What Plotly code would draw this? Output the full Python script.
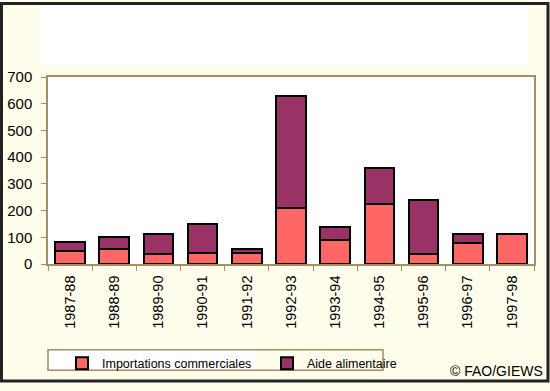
import plotly.graph_objects as go

categories = ["1987-88", "1988-89", "1989-90", "1990-91", "1991-92", "1992-93",
              "1993-94", "1994-95", "1995-96", "1996-97", "1997-98"]
importations_commerciales = [47, 57, 36, 43, 42, 209, 90, 225, 39, 79, 112]
aide_alimentaire = [34, 43, 77, 106, 13, 421, 50, 133, 201, 33, 0]
y_ticks = [0, 100, 200, 300, 400, 500, 600, 700]

W, H = 550, 391
L, R, T, B = 48, 16, 77, 122
PW, PH = W - L - R, H - T - B

def px(x):
    return (x - L) / PW

def py(y):
    return (H - B - y) / PH

FONT = "Liberation Sans, Arial, sans-serif"
TAN = "#A88C64"
CREAM = "#FFFDEB"

fig = go.Figure()
fig.add_trace(go.Bar(x=categories, y=importations_commerciales, name="Importations commerciales",
                     marker=dict(color="#FF6666", line=dict(color="black", width=2))))
fig.add_trace(go.Bar(x=categories, y=aide_alimentaire, name="Aide alimentaire",
                     marker=dict(color="#993366", line=dict(color="black", width=2))))

shapes = [
    # white top panel
    dict(type="rect", xref="paper", yref="paper", x0=px(40), x1=px(528), y0=py(65), y1=py(3),
         fillcolor="white", line=dict(width=0), layer="below"),
    # legend box
    dict(type="rect", xref="paper", yref="paper", x0=px(49), x1=px(256), y0=py(378), y1=py(357),
         fillcolor="white", line=dict(width=0), layer="below"),
    dict(type="rect", xref="paper", yref="paper", x0=px(48), x1=px(383), y0=py(378), y1=py(357),
         fillcolor="rgba(0,0,0,0)", line=dict(color=TAN, width=1.5), layer="below"),
    # outer border
    dict(type="rect", xref="paper", yref="paper", x0=px(1.5), x1=px(548), y0=py(389), y1=py(1.5),
         fillcolor="rgba(0,0,0,0)", line=dict(color="#222222", width=3)),
]

fig.update_layout(
    width=W, height=H,
    margin=dict(l=L, r=R, t=T, b=B, pad=0),
    barmode="stack", bargap=0.33,
    paper_bgcolor=CREAM, plot_bgcolor="white",
    font=dict(family=FONT, size=15, color="black"),
    showlegend=True,
    legend=dict(orientation="h", x=px(62), xanchor="left", y=py(356), yanchor="top",
                bgcolor="rgba(0,0,0,0)", borderwidth=0, font=dict(size=12.5),
                entrywidth=160, entrywidthmode="pixels", traceorder="normal"),
    shapes=shapes,
    annotations=[dict(text="© FAO/GIEWS", xref="paper", yref="paper", x=px(545), y=py(379),
                      xanchor="right", yanchor="middle", showarrow=False,
                      font=dict(size=14, family=FONT, color="black"))],
)
fig.update_xaxes(showline=True, linecolor=TAN, linewidth=1.5, mirror=True, automargin=False,
                 ticks="outside", ticklen=5, tickcolor=TAN, tickson="boundaries",
                 tickangle=-90, tickfont=dict(size=14.5), showgrid=False, ticklabelstandoff=4)
fig.update_yaxes(range=[0, 700], tickvals=y_ticks, showline=True, linecolor=TAN, linewidth=1.5,
                 mirror=True, ticks="outside", ticklen=5, tickcolor=TAN, automargin=False,
                 tickfont=dict(size=15), showgrid=False, zeroline=False, ticklabelstandoff=6)

fig.write_html(
    "out.html",
    config={"displayModeBar": False},
    post_script=(
        "document.documentElement.style.margin='0';"
        "document.body.style.margin='0';document.body.style.padding='0';"
        "document.body.style.lineHeight='0';document.body.style.overflow='hidden';"
        "document.querySelectorAll('.svg-container').forEach(function(e){e.style.display='block';});"
    ),
)
